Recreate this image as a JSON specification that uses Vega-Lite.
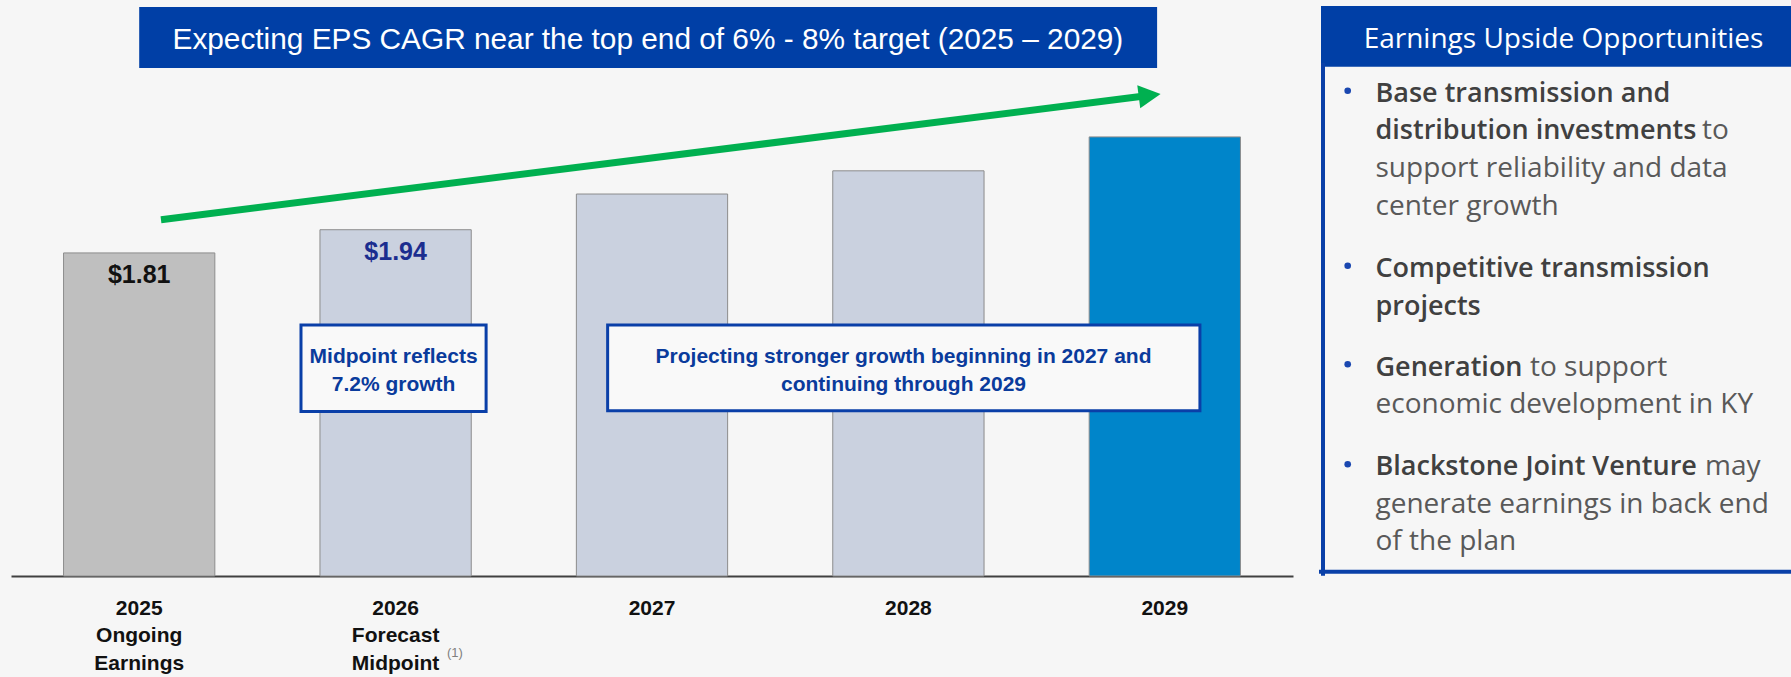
{
  "$schema": "https://vega.github.io/schema/vega-lite/v6.json",
  "background": "#f6f6f6",
  "padding": 0,
  "spacing": 0,
  "config": {"view": {"stroke": null}},
  "hconcat": [
    {
      "width": 1300,
      "height": 576,
      "layer": [
        {
          "data": {"values": [
            {"year": "2025", "eps": 1.81, "label": "$1.81"},
            {"year": "2026", "eps": 1.94, "label": "$1.94"},
            {"year": "2027", "eps": 2.14, "label": ""},
            {"year": "2028", "eps": 2.27, "label": ""},
            {"year": "2029", "eps": 2.46, "label": ""}
          ]},
          "encoding": {
            "x": {
              "field": "year", "type": "nominal", "sort": null,
              "scale": {"range": [11, 1293], "paddingInner": 0.41, "paddingOuter": 0.205},
              "axis": {
                "title": null, "domainColor": "#404040", "domainWidth": 2, "ticks": false, "grid": false,
                "labelFont": "Liberation Sans", "labelFontSize": 21, "labelFontWeight": "bold", "labelColor": "#111111",
                "labelPadding": 21, "labelLineHeight": 27.7, "labelBaseline": "top", "labelAngle": 0,
                "labelOverlap": false, "labelBound": false,
                "labelExpr": "datum.value == '2025' ? ['2025', 'Ongoing', 'Earnings'] : datum.value == '2026' ? ['2026', 'Forecast', 'Midpoint'] : datum.value"
              }
            }
          },
          "layer": [
            {
              "mark": {"type": "bar", "stroke": "#8c8c8c", "strokeWidth": 1},
              "encoding": {
                "y": {"field": "eps", "type": "quantitative", "scale": {"domain": [0, 3.227], "nice": false, "zero": false}, "axis": null},
                "y2": {"datum": 0},
                "color": {"field": "year", "type": "nominal", "legend": null,
                  "scale": {"domain": ["2025", "2026", "2027", "2028", "2029"], "range": ["#bfbfbf", "#cad1df", "#cad1df", "#cad1df", "#0085ca"]}}
              }
            },
            {
              "mark": {"type": "text", "baseline": "alphabetic", "align": "center", "dy": 30, "font": "Liberation Sans", "fontSize": 25, "fontWeight": "bold"},
              "encoding": {
                "y": {"field": "eps", "type": "quantitative", "scale": {"domain": [0, 3.227], "nice": false, "zero": false}, "axis": null},
                "text": {"field": "label"},
                "color": {"condition": {"test": "datum.year == '2025'", "value": "#111111"}, "value": "#1b2d8f"}
              }
            }
          ]
        },
        {
          "data": {"values": [
            {"kind": "titlebox", "x": 2025.0, "x2": 2028.97, "y": 3.188, "y2": 2.846},
            {"kind": "box", "x": 2025.631, "x2": 2026.353, "y": 1.406, "y2": 0.922},
            {"kind": "box", "x": 2026.827, "x2": 2029.137, "y": 1.406, "y2": 0.926},
            {"kind": "arrow", "x": 2025.085, "y": 1.996, "x2": 2028.905, "y2": 2.686},
            {"kind": "head", "x": 2028.941, "y": 2.693},
            {"kind": "title", "x": 2026.984, "y": 2.952, "text": "Expecting EPS CAGR near the top end of 6% - 8% target (2025 – 2029)"},
            {"kind": "note", "x": 2025.992, "y": 1.193, "text": "Midpoint reflects"},
            {"kind": "note", "x": 2025.992, "y": 1.036, "text": "7.2% growth"},
            {"kind": "note", "x": 2027.981, "y": 1.193, "text": "Projecting stronger growth beginning in 2027 and"},
            {"kind": "note", "x": 2027.981, "y": 1.036, "text": "continuing through 2029"},
            {"kind": "foot", "x": 2026.2, "y": -0.454, "text": "(1)"}
          ]},
          "encoding": {
            "x": {"field": "x", "type": "quantitative", "scale": {"domain": [2024.5, 2029.5], "range": [11, 1293], "nice": false, "zero": false}, "axis": null},
            "y": {"field": "y", "type": "quantitative", "scale": {"domain": [0, 3.227], "nice": false, "zero": false}, "axis": null}
          },
          "layer": [
            {
              "transform": [{"filter": "datum.kind == 'arrow'"}],
              "mark": {"type": "rule", "color": "#00b050", "strokeWidth": 7, "strokeCap": "butt"},
              "encoding": {"x2": {"field": "x2"}, "y2": {"field": "y2"}}
            },
            {
              "transform": [{"filter": "datum.kind == 'head'"}],
              "mark": {"type": "point", "shape": "M-1,-1.06L1,0L-1,1.06Z", "size": 484, "angle": 352.8, "filled": true, "color": "#00b050", "opacity": 1, "strokeWidth": 0},
              "encoding": {}
            },
            {
              "transform": [{"filter": "datum.kind == 'titlebox'"}],
              "mark": {"type": "rect", "color": "#003fa6"},
              "encoding": {"x2": {"field": "x2"}, "y2": {"field": "y2"}}
            },
            {
              "transform": [{"filter": "datum.kind == 'box'"}],
              "mark": {"type": "rect", "fill": "#f9f9f9", "stroke": "#0a3fa8", "strokeWidth": 3},
              "encoding": {"x2": {"field": "x2"}, "y2": {"field": "y2"}}
            },
            {
              "transform": [{"filter": "datum.kind == 'title'"}],
              "mark": {"type": "text", "align": "center", "baseline": "alphabetic", "font": "Liberation Sans", "fontSize": 29.8, "color": "#ffffff"},
              "encoding": {"text": {"field": "text"}}
            },
            {
              "transform": [{"filter": "datum.kind == 'note'"}],
              "mark": {"type": "text", "align": "center", "baseline": "alphabetic", "font": "Liberation Sans", "fontSize": 21, "fontWeight": "bold", "color": "#0a3b9c"},
              "encoding": {"text": {"field": "text"}}
            },
            {
              "transform": [{"filter": "datum.kind == 'foot'"}],
              "mark": {"type": "text", "align": "left", "baseline": "alphabetic", "font": "Liberation Sans", "fontSize": 13, "color": "#7f7f7f"},
              "encoding": {"text": {"field": "text"}}
            }
          ]
        }
      ],
      "resolve": {"scale": {"x": "independent"}, "axis": {"x": "independent"}}
    },
    {
      "width": 491,
      "height": 677,
      "data": {"values": [
        {"k": "header", "x": 21, "x2": 491, "y": 6, "y2": 66.7},
        {"k": "border", "x": 23, "x2": 23, "y": 65, "y2": 573.8},
        {"k": "border", "x": 21, "x2": 491, "y": 571.8, "y2": 571.8},
        {"k": "htext", "x": 263.5, "y": 48, "t": "Earnings Upside Opportunities"},
        {"k": "dot", "x": 47.7, "y": 90.7},
        {"k": "dot", "x": 47.7, "y": 265.7},
        {"k": "dot", "x": 47.7, "y": 364.3},
        {"k": "dot", "x": 47.7, "y": 464.3},
        {"k": "b", "x": 75.5, "y": 101.7, "t": "Base transmission and"},
        {"k": "b", "x": 75.5, "y": 139.3, "t": "distribution investments"},
        {"k": "r", "x": 402, "y": 139.3, "t": "to"},
        {"k": "r", "x": 75.5, "y": 176.7, "t": "support reliability and data"},
        {"k": "r", "x": 75.5, "y": 215, "t": "center growth"},
        {"k": "b", "x": 75.5, "y": 276.7, "t": "Competitive transmission"},
        {"k": "b", "x": 75.5, "y": 315, "t": "projects"},
        {"k": "b", "x": 75.5, "y": 376, "t": "Generation"},
        {"k": "r", "x": 230, "y": 376, "t": "to support"},
        {"k": "r", "x": 75.5, "y": 413.3, "t": "economic development in KY"},
        {"k": "b", "x": 75.5, "y": 475, "t": "Blackstone Joint Venture"},
        {"k": "r", "x": 405, "y": 475, "t": "may"},
        {"k": "r", "x": 75.5, "y": 512.7, "t": "generate earnings in back end"},
        {"k": "r", "x": 75.5, "y": 550, "t": "of the plan"}
      ]},
      "encoding": {
        "x": {"field": "x", "type": "quantitative", "scale": {"domain": [0, 491], "nice": false, "zero": false}, "axis": null},
        "y": {"field": "y", "type": "quantitative", "scale": {"domain": [677, 0], "nice": false, "zero": false}, "axis": null}
      },
      "layer": [
        {
          "transform": [{"filter": "datum.k == 'header'"}],
          "mark": {"type": "rect", "color": "#003fa6"},
          "encoding": {"x2": {"field": "x2"}, "y2": {"field": "y2"}}
        },
        {
          "transform": [{"filter": "datum.k == 'border'"}],
          "mark": {"type": "rule", "color": "#0a40a8", "strokeWidth": 4, "strokeCap": "square"},
          "encoding": {"x2": {"field": "x2"}, "y2": {"field": "y2"}}
        },
        {
          "transform": [{"filter": "datum.k == 'htext'"}],
          "mark": {"type": "text", "align": "center", "baseline": "alphabetic", "font": "Open Sans", "fontSize": 28, "color": "#ffffff"},
          "encoding": {"text": {"field": "t"}}
        },
        {
          "transform": [{"filter": "datum.k == 'dot'"}],
          "mark": {"type": "point", "shape": "circle", "filled": true, "size": 44, "color": "#1a47b0", "opacity": 1},
          "encoding": {}
        },
        {
          "transform": [{"filter": "datum.k == 'b'"}],
          "mark": {"type": "text", "align": "left", "baseline": "alphabetic", "font": "Open Sans", "fontSize": 27, "fontWeight": 600, "color": "#404040"},
          "encoding": {"text": {"field": "t"}}
        },
        {
          "transform": [{"filter": "datum.k == 'r'"}],
          "mark": {"type": "text", "align": "left", "baseline": "alphabetic", "font": "Open Sans", "fontSize": 28, "color": "#595959"},
          "encoding": {"text": {"field": "t"}}
        }
      ]
    }
  ]
}
